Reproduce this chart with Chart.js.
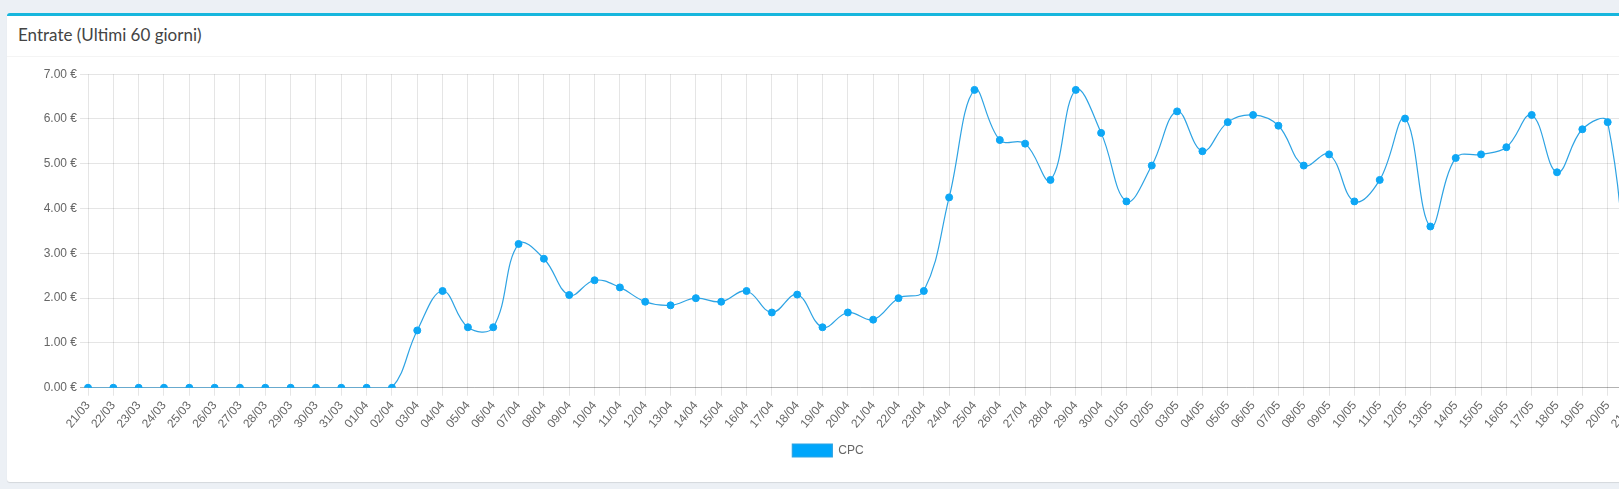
<!DOCTYPE html>
<html>
<head>
<meta charset="utf-8">
<script src="https://cdn.jsdelivr.net/npm/chart.js@4.4.1/dist/chart.umd.min.js"></script>
<style>
	html, body { margin: 0; padding: 0; background: #ecf0f5; overflow: hidden; width: 1619px; height: 489px; }
	.box {
		position: absolute; left: 7px; top: 13px; width: 1700px; height: 466px;
		background: #fff; border-top: 3px solid #17b6dd; border-radius: 3px;
		box-shadow: 0 1px 1px rgba(0,0,0,0.1);
	}
	.box-header {
		height: 41px; border-bottom: 1px solid #f4f4f4; box-sizing: border-box;
		padding: 0 0 0 11px; font-family: Lato, sans-serif; font-size: 17px; color: #444;
		line-height: 38px;
	}
	.box-body { padding: 7px 10px 10px 10px; }
	.chart-wrap { position: relative; width: 1622px; height: 403px; }
</style>
</head>
<body>
<div class="box">
	<div class="box-header">Entrate (Ultimi 60 giorni)</div>
	<div class="box-body">
		<div class="chart-wrap"><canvas id="entrateChart"></canvas></div>
	</div>
</div>
<script>
// Days shown on the x axis
const days = [
	'21/03', '22/03', '23/03', '24/03', '25/03', '26/03', '27/03', '28/03', '29/03', '30/03', '31/03',
	'01/04', '02/04', '03/04', '04/04', '05/04', '06/04', '07/04', '08/04', '09/04', '10/04',
	'11/04', '12/04', '13/04', '14/04', '15/04', '16/04', '17/04', '18/04', '19/04', '20/04',
	'21/04', '22/04', '23/04', '24/04', '25/04', '26/04', '27/04', '28/04', '29/04', '30/04',
	'01/05', '02/05', '03/05', '04/05', '05/05', '06/05', '07/05', '08/05', '09/05', '10/05',
	'11/05', '12/05', '13/05', '14/05', '15/05', '16/05', '17/05', '18/05', '19/05', '20/05', '21/05'
];

// CPC income per day (euro)
const cpcValues = [
	0, 0, 0, 0, 0, 0, 0, 0, 0, 0, 0,
	0, 0, 1.28, 2.16, 1.35, 1.35, 3.21, 2.88, 2.07, 2.40,
	2.24, 1.92, 1.84, 2.00, 1.92, 2.16, 1.68, 2.08, 1.35, 1.68,
	1.52, 2.00, 2.16, 4.25, 6.65, 5.53, 5.45, 4.64, 6.65, 5.69,
	4.16, 4.96, 6.17, 5.28, 5.93, 6.09, 5.85, 4.96, 5.21, 4.16,
	4.64, 6.01, 3.60, 5.13, 5.21, 5.37, 6.09, 4.81, 5.77, 5.93, 0
];

const seriesLabel = 'CPC';
const yMin = 0;
const yMax = 7;

Chart.defaults.font.family = "'Liberation Sans', Arial, sans-serif";
Chart.defaults.font.size = 12;
Chart.defaults.color = '#666';

const ctx = document.getElementById('entrateChart').getContext('2d');
new Chart(ctx, {
	type: 'line',
	data: {
		labels: days,
		datasets: [{
			label: seriesLabel,
			data: cpcValues,
			borderColor: '#2ea3e3',
			backgroundColor: '#00a6fb',
			pointBackgroundColor: '#0ea7f5',
			pointBorderColor: '#0ea7f5',
			pointRadius: 3.5,
			pointBorderWidth: 1,
			borderWidth: 1.2,
			tension: 0.4,
			fill: false
		}]
	},
	options: {
		responsive: true,
		maintainAspectRatio: false,
		animation: false,
		plugins: {
			legend: {
				position: 'bottom',
				labels: { boxWidth: 40, boxHeight: 13, color: '#666' }
			},
			tooltip: { enabled: false }
		},
		scales: {
			x: {
				grid: { color: 'rgba(0,0,0,0.1)', tickLength: 8 },
				ticks: { autoSkip: false, maxRotation: 50, minRotation: 50 },
				border: { display: false },
				afterFit: (scale) => { scale.paddingRight = 6; }
			},
			y: {
				min: yMin,
				max: yMax,
				ticks: {
					stepSize: 1,
					padding: 3,
					callback: (v) => v.toFixed(2) + ' €'
				},
				grid: {
					tickLength: 8,
					color: (c) => c.tick && c.tick.value === 0 ? 'rgba(0,0,0,0.3)' : 'rgba(0,0,0,0.1)'
				},
				border: { display: false },
				// wide axis box leaves the empty gap left of the euro labels
				afterFit: (scale) => { scale.width = 71; }
			}
		}
	}
});
</script>
</body>
</html>
